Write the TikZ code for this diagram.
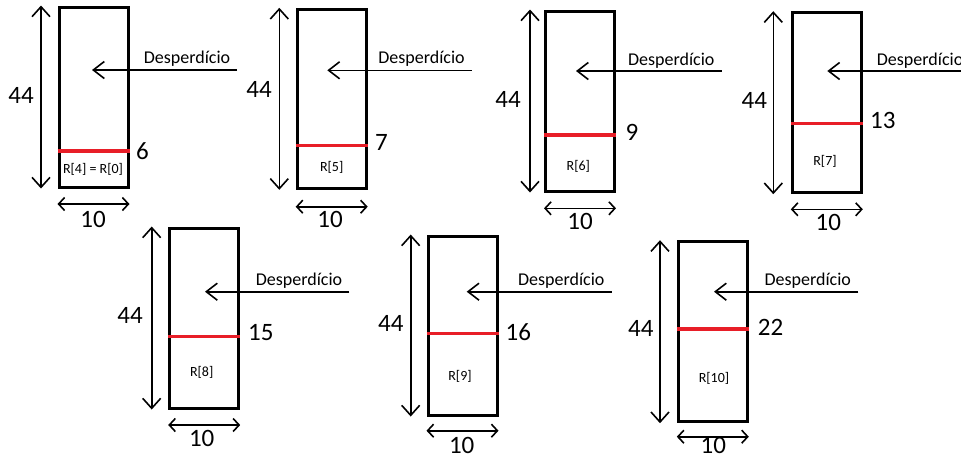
\documentclass[tikz,border=0pt]{standalone}
\usepackage{fontspec}
\setmainfont{Carlito}
\usetikzlibrary{arrows.meta}
\definecolor{cutred}{RGB}{232,30,40}
\tikzset{
  box/.style={draw, line width=3pt, minimum width=69pt, minimum height=180pt, inner sep=0pt},
  cut/.style={draw=cutred, line width=3.5pt},
  hdim/.style={line width=1.6pt, {Straight Barb[length=10pt,width=18pt]}-{Straight Barb[length=10pt,width=18pt]}},
  wdim/.style={line width=1.6pt, {Straight Barb[length=6pt,width=13pt]}-{Straight Barb[length=6pt,width=13pt]}},
  waste/.style={line width=1.6pt, -{Straight Barb[length=11pt,width=17pt]}},
  num/.style={font=\fontsize{25}{30}\selectfont, inner sep=0pt, anchor=base},
  wtext/.style={font=\fontsize{18}{21}\selectfont, inner sep=0pt, anchor=base},
  rlab/.style={font=\fontsize{14}{17}\selectfont, inner sep=0pt, anchor=base}
}
\begin{document}
\begin{tikzpicture}[x=1pt,y=-1pt]
\useasboundingbox (0,0) rectangle (961,459);
\clip (0,0) rectangle (961,459);
% ---------- panel 1
\node[box] (b1) at (93.5,97) {};
\draw[cut] (b1.west |- 0,151) -- (b1.east |- 0,151);
\draw[hdim] (b1.north -| 41,0) -- (b1.south -| 41,0);
\draw[wdim] (b1.south west |- 0,204) -- (b1.south east |- 0,204);
\node[num] (h1) at (21,103) {44};
\node[num] (c1) at (142.5,159) {6};
\node[num] (w1) at (93,227) {10};
\node[rlab] (r1) at (93,173) {R[4] = R[0]};
\node[wtext] (t1) at (187,63) {Desperdício};
\coordinate (d1) at (237,70);
\coordinate (e1) at (92,70);
\draw[waste] (d1) -- (e1);
% ---------- panel 2
\node[box, minimum height=179pt] (b2) at (331.7,98.8) {};
\draw[cut] (b2.west |- 0,145.7) -- (b2.east |- 0,145.7);
\draw[hdim] (b2.north -| 279.3,0) -- (b2.south -| 279.3,0);
\draw[wdim] (b2.south west |- 0,206.7) -- (b2.south east |- 0,206.7);
\node[num] (h2) at (259,97) {44};
\node[num] (c2) at (381.5,150) {7};
\node[num] (w2) at (330,227) {10};
\node[rlab] (r2) at (331.7,171.7) {R[5]};
\node[wtext] (t2) at (421.5,63.3) {Desperdício};
\coordinate (d2) at (471.7,70.3);
\coordinate (e2) at (327.3,70.3);
\draw[waste] (d2) -- (e2);
% ---------- panel 3
\node[box] (b3) at (580,101) {};
\draw[cut] (b3.west |- 0,135) -- (b3.east |- 0,135);
\draw[hdim] (b3.north -| 530,0) -- (b3.south -| 530,0);
\draw[wdim] (b3.south west |- 0,208.3) -- (b3.south east |- 0,208.3);
\node[num] (h3) at (508,107) {44};
\node[num] (c3) at (632,140) {9};
\node[num] (w3) at (580,229) {10};
\node[rlab] (r3) at (578.3,170) {R[6]};
\node[wtext] (t3) at (671.3,65) {Desperdício};
\coordinate (d3) at (721.7,71);
\coordinate (e3) at (576,71);
\draw[waste] (d3) -- (e3);
% ---------- panel 4
\node[box] (b4) at (826.8,102.7) {};
\draw[cut] (b4.west |- 0,123.3) -- (b4.east |- 0,123.3);
\draw[hdim] (b4.north -| 773.3,0) -- (b4.south -| 773.3,0);
\draw[wdim] (b4.south west |- 0,209.3) -- (b4.south east |- 0,209.3);
\node[num] (h4) at (754.3,108.3) {44};
\node[num] (c4) at (882.8,128.3) {13};
\node[num] (w4) at (828.3,230) {10};
\node[rlab] (r4) at (825,165) {R[7]};
\node[wtext, anchor=base west] (t4) at (876.7,65.7) {Desperdício};
\coordinate (d4) at (970,71);
\coordinate (e4) at (827.3,71);
\draw[waste] (d4) -- (e4);
% ---------- panel 5
\node[box] (b5) at (204.2,318) {};
\draw[cut] (b5.west |- 0,336.7) -- (b5.east |- 0,336.7);
\draw[hdim] (b5.north -| 151.7,0) -- (b5.south -| 151.7,0);
\draw[wdim] (b5.south west |- 0,425) -- (b5.south east |- 0,425);
\node[num] (h5) at (130,323) {44};
\node[num] (c5) at (260.8,340.7) {15};
\node[num] (w5) at (201.7,446.7) {10};
\node[rlab] (r5) at (201.7,376.7) {R[8]};
\node[wtext] (t5) at (299,285.7) {Desperdício};
\coordinate (d5) at (349.3,291.7);
\coordinate (e5) at (205,291.7);
\draw[waste] (d5) -- (e5);
% ---------- panel 6
\node[box, minimum height=179pt] (b6) at (462.5,325.5) {};
\draw[cut] (b6.west |- 0,333.3) -- (b6.east |- 0,333.3);
\draw[hdim] (b6.north -| 410.7,0) -- (b6.south -| 410.7,0);
\draw[wdim] (b6.south west |- 0,430.7) -- (b6.south east |- 0,430.7);
\node[num] (h6) at (390.8,331.7) {44};
\node[num] (c6) at (518.3,340) {16};
\node[num] (w6) at (461.7,453) {10};
\node[rlab] (r6) at (460,380.7) {R[9]};
\node[wtext] (t6) at (561.3,285.7) {Desperdício};
\coordinate (d6) at (611.7,291.7);
\coordinate (e6) at (466.7,291.7);
\draw[waste] (d6) -- (e6);
% ---------- panel 7
\node[box] (b7) at (712.8,331.7) {};
\draw[cut] (b7.west |- 0,329) -- (b7.east |- 0,329);
\draw[hdim] (b7.north -| 660,0) -- (b7.south -| 660,0);
\draw[wdim] (b7.south west |- 0,436.7) -- (b7.south east |- 0,436.7);
\node[num] (h7) at (640.8,336.7) {44};
\node[num] (c7) at (770.5,335) {22};
\node[num] (w7) at (713.3,453) {10};
\node[rlab] (r7) at (714,382.7) {R[10]};
\node[wtext] (t7) at (807.8,285.7) {Desperdício};
\coordinate (d7) at (858.3,291.7);
\coordinate (e7) at (714,291.7);
\draw[waste] (d7) -- (e7);
\end{tikzpicture}
\end{document}
